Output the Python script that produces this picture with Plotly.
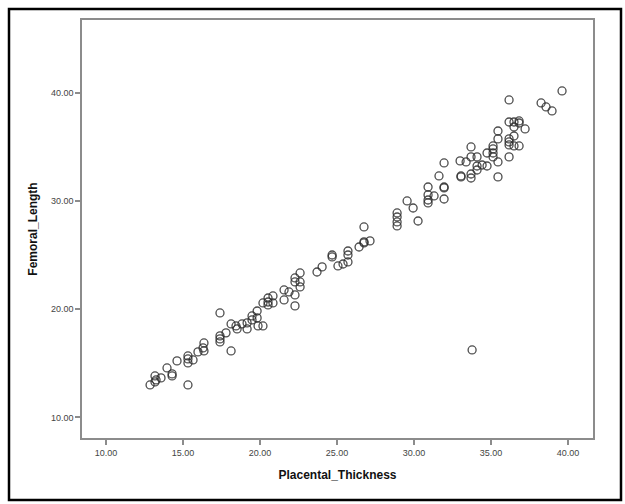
import plotly.graph_objects as go

# Data (Placental_Thickness vs Femoral_Length)
placental_thickness = [
    12.86, 13.18, 13.25, 13.18, 13.57, 13.96, 14.29, 14.29, 14.61, 15.32,
    15.32, 15.32, 15.32, 15.65, 15.97, 16.30, 16.36, 16.36, 17.40, 17.40,
    17.40, 17.40, 17.79, 18.12,
    18.12, 18.44, 18.51, 18.83, 19.16, 19.16, 19.48, 19.48, 19.81, 19.81,
    19.87, 20.19, 20.19, 20.52, 20.52, 20.52, 20.84, 20.84, 21.56, 21.56,
    21.88, 22.27, 22.27, 22.27, 22.27, 22.60, 22.60, 22.60,
    23.70, 24.03, 24.68, 24.68, 25.06, 25.39, 25.71, 25.71, 25.71, 26.43,
    26.75, 26.75, 26.75, 27.14, 28.90, 28.90, 28.90, 28.90, 29.55, 29.94,
    30.26, 30.91, 30.91, 30.91, 30.91, 31.30, 31.62, 31.95, 31.95, 31.95,
    31.95, 33.05, 33.05, 32.99, 33.38, 33.70, 33.70, 33.70, 33.70, 34.09,
    34.09, 34.09, 34.42, 34.74, 34.74, 35.13, 35.13, 35.13, 35.13, 35.45,
    35.45, 35.45, 35.45, 36.17, 36.17, 36.17, 36.17, 36.17, 36.17, 36.49,
    36.49, 36.49, 36.49, 36.82, 36.82, 36.82, 37.21, 38.25, 38.57, 38.96,
    39.61,
    33.77,
]
femoral_length = [
    13.00, 13.28, 13.46, 13.83, 13.65, 14.57, 14.02, 13.83, 15.22, 13.00,
    15.68, 15.40, 15.03, 15.31, 16.05, 16.42, 16.14, 16.88, 19.65, 17.53,
    17.25, 16.97, 17.81, 16.14,
    18.63, 18.45, 18.17, 18.63, 18.73, 18.17, 19.37, 19.00, 19.83, 19.19,
    18.45, 18.45, 20.57, 20.66, 20.39, 21.03, 20.57, 21.22, 21.77, 20.85,
    21.59, 21.31, 20.30, 22.88, 22.51, 22.05, 22.51, 23.34,
    23.43, 23.90, 24.82, 25.00, 23.99, 24.17, 24.36, 25.00, 25.37, 25.74,
    26.21, 26.11, 27.59, 26.30, 28.88, 28.51, 28.05, 27.68, 29.99, 29.34,
    28.14, 31.28, 30.55, 30.08, 29.81, 30.45, 32.30, 33.50, 31.28, 31.19,
    30.17, 32.30, 32.21, 33.69, 33.59, 34.98, 34.06, 32.48, 32.11, 34.06,
    33.22, 32.85, 33.31, 33.22, 34.42, 35.07, 34.79, 34.42, 34.06, 36.45,
    35.72, 33.59, 32.21, 39.32, 37.28, 35.72, 35.44, 35.16, 34.06, 37.28,
    36.82, 35.99, 35.07, 37.38, 37.19, 35.07, 36.64, 39.04, 38.67, 38.30,
    40.15,
    16.23,
]
tick_values = [10, 15, 20, 25, 30, 35, 40]
y_tick_values = [10, 20, 30, 40]
x_title = "Placental_Thickness"
y_title = "Femoral_Length"

fig = go.Figure()
fig.add_trace(go.Scatter(
    x=placental_thickness, y=femoral_length, mode="markers",
    marker=dict(symbol="circle-open", size=8,
                color="rgba(45,45,45,0.85)", line=dict(width=1.3)),
    showlegend=False, hoverinfo="x+y",
))

axis_common = dict(
    showline=True, mirror=True, linecolor="#8c8c8c", linewidth=1.5,
    ticks="outside", ticklen=5, tickcolor="#8c8c8c", tickwidth=1.5,
    showgrid=False, zeroline=False, tickformat=".2f",
    tickfont=dict(family="Liberation Sans, Arial", size=9, color="#444444"),
)

fig.update_layout(
    width=625, height=504,
    margin=dict(l=82, r=32, t=20, b=66),
    paper_bgcolor="white", plot_bgcolor="white",
    xaxis=dict(range=[8.44, 41.62], tickvals=tick_values,
               title=dict(text=f"<b>{x_title}</b>", standoff=14,
                          font=dict(family="Liberation Sans, Arial", size=12, color="#111")),
               **axis_common),
    yaxis=dict(range=[8.1, 46.7], tickvals=y_tick_values,
               title=dict(text=f"<b>{y_title}</b>", standoff=11,
                          font=dict(family="Liberation Sans, Arial", size=12, color="#111")),
               **axis_common),
    shapes=[dict(type="rect", xref="paper", yref="paper",
                 x0=(9 - 82) / 511, x1=(621 - 82) / 511,
                 y0=(438 - 500) / 418, y1=(438 - 9) / 418,
                 line=dict(color="black", width=2.5), layer="below")],
)

fig.write_html("out.html")
